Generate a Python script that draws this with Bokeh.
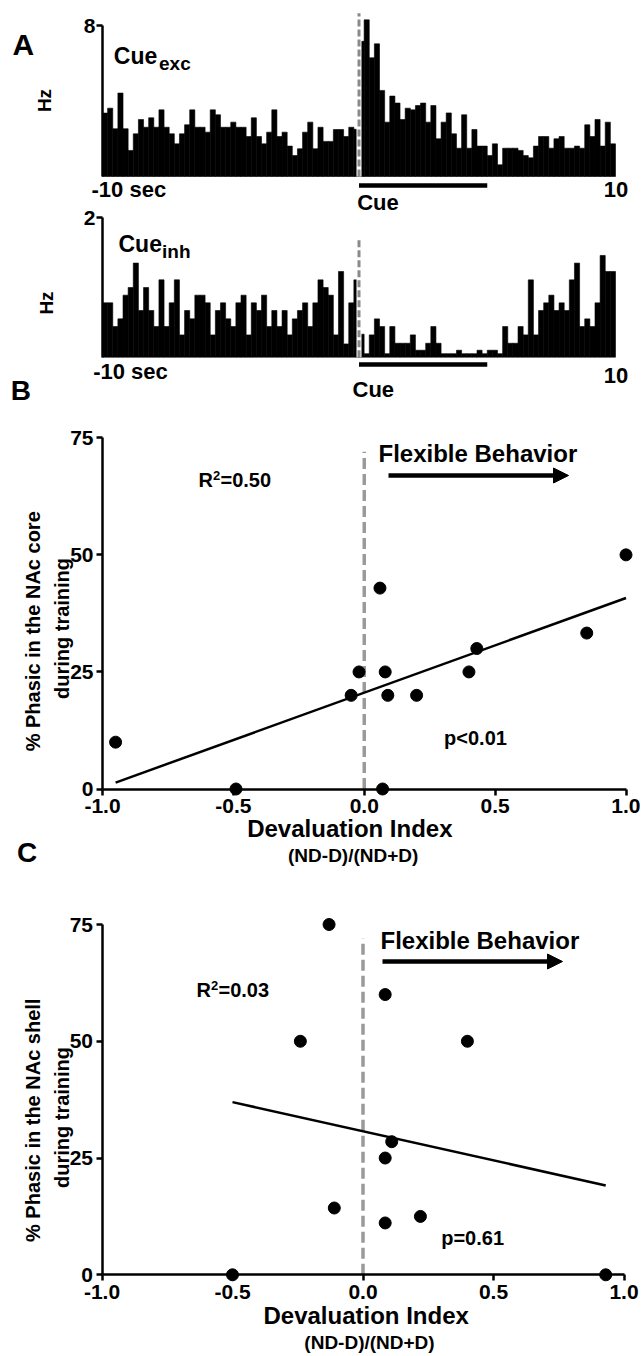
import numpy as np
from bokeh.plotting import figure
from bokeh.layouts import column
from bokeh.models import (Range1d, FixedTicker, PrintfTickFormatter, Arrow, NormalHead,
                          LinearAxis)
from bokeh.core.properties import value
from bokeh.embed import file_html
from bokeh.resources import INLINE

# ---------------- data ----------------
bin_start = -10.0
bin_width = 0.2
exc_rate = [
    3.36, 3.62, 2.53, 4.42, 2.53, 1.38, 2.26, 3.02, 2.61, 3.11,
    2.61, 3.53, 2.61, 2.26, 1.73, 2.26, 2.74, 3.53, 2.61, 2.61,
    2.35, 3.53, 3.27, 2.61, 2.61, 2.88, 2.61, 2.61, 2.12, 3.11,
    2.12, 1.73, 2.35, 3.53, 2.12, 2.35, 1.61, 1.11, 1.47, 2.35,
    2.88, 1.47, 2.61, 1.86, 1.86, 2.49, 2.49, 2.12, 2.61, 2.50,
    7.16, 8.30, 6.29, 7.03, 4.56, 2.88, 4.26, 3.89, 3.02, 3.62,
    3.53, 3.76, 3.89, 2.88, 3.76, 2.00, 2.88, 3.37, 2.26, 1.50,
    3.27, 1.50, 2.49, 1.61, 1.61, 1.11, 1.73, 0.62, 1.50, 1.50,
    1.50, 1.38, 1.11, 0.99, 1.61, 2.12, 2.12, 1.50, 2.00, 2.12,
    1.50, 1.50, 1.61, 1.50, 2.74, 2.12, 3.02, 1.61, 2.88, 1.73]
inh_rate = [
    0.78, 0.78, 0.44, 0.55, 0.89, 1.00, 1.35, 0.67, 1.00, 0.67,
    0.44, 1.11, 0.44, 0.78, 1.11, 0.32, 0.67, 0.55, 0.89, 0.89,
    0.78, 0.32, 0.67, 0.78, 0.55, 0.44, 0.78, 0.89, 0.32, 0.78,
    0.67, 0.89, 0.44, 0.67, 0.44, 0.67, 0.32, 0.55, 0.67, 0.78,
    0.44, 0.78, 1.11, 1.00, 0.89, 0.32, 1.23, 0.19, 0.78, 1.11,
    0.33, 0.05, 0.32, 0.55, 0.44, 0.05, 0.44, 0.20, 0.20, 0.20,
    0.32, 0.10, 0.10, 0.20, 0.44, 0.20, 0.05, 0.05, 0.05, 0.10,
    0.05, 0.05, 0.05, 0.10, 0.05, 0.10, 0.10, 0.05, 0.44, 0.20,
    0.20, 0.44, 0.32, 1.11, 0.32, 0.67, 0.78, 0.89, 0.67, 0.78,
    0.67, 1.11, 1.35, 0.44, 0.55, 0.44, 0.78, 1.46, 1.23, 1.23]
cue_onset = 0.0
cue_window = [0.0, 5.0]
exc_ticks = [8]
inh_ticks = [2]

core_index = [-0.95, -0.49, -0.05, -0.02, 0.06, 0.07, 0.08, 0.09, 0.20, 0.40, 0.43, 0.85, 1.00]
core_phasic = [10.0, 0.0, 20.0, 25.0, 42.9, 0.0, 25.0, 20.0, 20.0, 25.0, 30.0, 33.3, 50.0]
shell_index = [-0.50, -0.24, -0.13, -0.11, 0.085, 0.085, 0.085, 0.11, 0.22, 0.40, 0.93]
shell_phasic = [0.0, 50.0, 75.0, 14.3, 60.0, 25.0, 11.1, 28.5, 12.5, 50.0, 0.0]
di_ticks = [-1.0, -0.5, 0.0, 0.5, 1.0]
pct_ticks = [0, 25, 50, 75]

# ---------------- helpers ----------------
FONT = "Liberation Sans"
PAGE_LEFT, PAGE_RIGHT = 0, 640
W = PAGE_RIGHT - PAGE_LEFT


def mapping(v0, p0, v1, p1):
    k = (v1 - v0) / (p1 - p0)
    return lambda p: v0 + (p - p0) * k


def make_fig(fx, fy, top, bottom):
    p = figure(width=W, height=bottom - top,
               x_range=Range1d(fx(PAGE_LEFT), fx(PAGE_RIGHT)),
               y_range=Range1d(fy(bottom), fy(top)),
               output_backend="svg", toolbar_location=None,
               min_border_left=0, min_border_right=0,
               min_border_top=0, min_border_bottom=0)
    p.outline_line_color = None
    p.grid.visible = False
    p.background_fill_color = "white"
    p.border_fill_color = "white"
    return p


def style_axis(ax, size, standoff):
    ax.axis_line_width = 2.5
    ax.axis_line_color = "black"
    ax.major_tick_line_width = 2.5
    ax.major_tick_line_color = "black"
    ax.major_tick_in = 0
    ax.major_tick_out = 6
    ax.minor_tick_line_color = None
    ax.major_label_text_font = FONT
    ax.major_label_text_font_style = "bold"
    ax.major_label_text_font_size = f"{size}px"
    ax.major_label_text_color = "black"
    ax.major_label_standoff = standoff


def txt(p, fx, fy, px, py, s, size, align="left"):
    """Horizontal text; py is the page y of the text's baseline."""
    p.text(x=[fx(px)], y=[fy(py - 0.35 * size)], text=[s], text_font=value(FONT),
           text_font_style="bold", text_font_size=f"{size}px", text_align=align,
           text_baseline="middle", text_color="black")


def vtxt(p, fx, fy, px, py, s, size):
    """Vertical (bottom-to-top) text centred on page point (px, py)."""
    p.text(x=[fx(px)], y=[fy(py)], text=[s], text_font=value(FONT),
           text_font_style="bold", text_font_size=f"{size}px", text_align="center",
           text_baseline="middle", angle=np.pi / 2, text_color="black")


# ---------------- panel A (two histograms, one canvas, two y scales) ----------------
A_TOP, A_BOTTOM = 0, 407
fxA = mapping(-10, 102, 10, 615)
fyA1 = mapping(0, 176, 8, 25)
fyA2 = mapping(0, 356.7, 2, 217.3)
pA = make_fig(fxA, fyA1, A_TOP, A_BOTTOM)
pA.extra_y_ranges = {"inh": Range1d(fyA2(A_BOTTOM), fyA2(A_TOP))}
pA.xaxis.visible = False


def hist(p, rates, fy, rname, dash_top, bar_y):
    left = [bin_start + i * bin_width for i in range(len(rates))]
    right = [l + bin_width for l in left]
    p.quad(left=left, right=right, bottom=0, top=rates, y_range_name=rname,
           fill_color="black", line_color="black", line_width=0.6)
    p.segment(x0=[cue_onset], y0=[0], x1=[cue_onset], y1=[fy(dash_top)], y_range_name=rname,
              line_color="white", line_width=5)
    p.segment(x0=[cue_onset], y0=[0], x1=[cue_onset], y1=[fy(dash_top)], y_range_name=rname,
              line_color="#8a8a8a", line_width=3, line_dash="7 3")
    p.segment(x0=[cue_window[0]], y0=[fy(bar_y)], x1=[cue_window[1]], y1=[fy(bar_y)],
              y_range_name=rname, line_color="black", line_width=4.5)


hist(pA, exc_rate, fyA1, "default", 12.7, 185)
hist(pA, inh_rate, fyA2, "inh", 239, 364)

pA.yaxis.fixed_location = bin_start
pA.yaxis.ticker = FixedTicker(ticks=exc_ticks)
pA.yaxis.bounds = (0, exc_ticks[-1])
style_axis(pA.yaxis, 21, 1)
ax_inh = LinearAxis(y_range_name="inh", fixed_location=bin_start,
                    ticker=FixedTicker(ticks=inh_ticks), bounds=(0, inh_ticks[-1]))
style_axis(ax_inh, 21, 1)
pA.add_layout(ax_inh, "left")

fx, fy = fxA, fyA1
txt(pA, fx, fy, 12, 54, "A", 30)
txt(pA, fx, fy, 113.3, 63.3, "Cue", 23)
txt(pA, fx, fy, 158.5, 70, "exc", 19)
vtxt(pA, fx, fy, 44, 100, "Hz", 19)
txt(pA, fx, fy, 91, 197, "-10 sec", 22)
txt(pA, fx, fy, 615.5, 197, "10", 22, align="center")
txt(pA, fx, fy, 356.7, 210, "Cue", 22)
txt(pA, fx, fy, 118, 251.7, "Cue", 23)
txt(pA, fx, fy, 161.5, 257.7, "inh", 19)
vtxt(pA, fx, fy, 46, 302.5, "Hz", 19)
txt(pA, fx, fy, 92.7, 379, "-10 sec", 22)
txt(pA, fx, fy, 615.5, 383, "10", 22, align="center")
txt(pA, fx, fy, 352, 396.7, "Cue", 22)
txt(pA, fx, fy, 10.2, 400, "B", 28)


# ---------------- panels B and C ----------------
def scatter_panel(xs, ys, top, bottom, fx, fy, cfg):
    p = make_fig(fx, fy, top, bottom)
    p.segment(x0=[cue_onset], y0=[0], x1=[cue_onset], y1=[72],
              line_color="#9a9a9a", line_width=3.5, line_dash="11 5")
    m, b = np.polyfit(xs, ys, 1)
    lx = [min(xs), max(xs)]
    p.line(lx, [m * v + b for v in lx], line_color="black", line_width=2.5)
    p.scatter(xs, ys, size=12, fill_color="black", line_color="black")
    p.add_layout(Arrow(end=NormalHead(size=15, fill_color="black", line_color="black"),
                       x_start=fx(cfg["arrow"][0]), y_start=fy(cfg["arrow"][2]),
                       x_end=fx(cfg["arrow"][1]), y_end=fy(cfg["arrow"][2]),
                       line_width=4.5, line_color="black"))
    p.xaxis.fixed_location = 0
    p.yaxis.fixed_location = di_ticks[0]
    p.xaxis.ticker = FixedTicker(ticks=di_ticks)
    p.xaxis.formatter = PrintfTickFormatter(format="%.1f")
    p.xaxis.bounds = (di_ticks[0], di_ticks[-1])
    p.yaxis.ticker = FixedTicker(ticks=pct_ticks)
    p.yaxis.bounds = (pct_ticks[0], pct_ticks[-1])
    style_axis(p.xaxis, 21, 4)
    style_axis(p.yaxis, 21, 3)
    fb = cfg["flex"]
    txt(p, fx, fy, fb[0], fb[1], "Flexible Behavior", 24)
    r = cfg["r2"]
    txt(p, fx, fy, r[0], r[1], "R", 20)
    txt(p, fx, fy, r[0] + 14.5, r[1] - 7, "2", 13)
    txt(p, fx, fy, r[0] + 22, r[1], cfg["r2text"], 20)
    pv = cfg["p"]
    txt(p, fx, fy, pv[0], pv[1], cfg["ptext"], 20)
    yl = cfg["ylab"]
    vtxt(p, fx, fy, 32, yl, cfg["ylab1"], 20)
    vtxt(p, fx, fy, 61, yl, "during training", 20)
    xl = cfg["xlab"]
    txt(p, fx, fy, xl[0], xl[1], "Devaluation  Index", 24, align="center")
    txt(p, fx, fy, xl[0], xl[2], "(ND-D)/(ND+D)", 19, align="center")
    return p


fxB = mapping(-1, 102, 1, 625.5)
fyB = mapping(0, 788.5, 75, 437.3)
pB = scatter_panel(core_index, core_phasic, A_BOTTOM, 870, fxB, fyB, dict(
    arrow=(388, 568, 475), flex=(378, 461.7), r2=(198, 486.7), r2text="=0.50",
    p=(443.6, 744), ptext="p<0.01", ylab=628, ylab1="%  Phasic in the NAc core",
    xlab=(352.7, 836.7, 862)))
txt(pB, fxB, fyB, 16.4, 861.7, "C", 28)

fxC = mapping(-1, 101.5, 1, 623.5)
fyC = mapping(0, 1274.3, 75, 924)
pC = scatter_panel(shell_index, shell_phasic, 870, 1354, fxC, fyC, dict(
    arrow=(382, 562, 961), flex=(380, 948), r2=(196, 996.7), r2text="=0.03",
    p=(440.7, 1244), ptext="p=0.61", ylab=1117, ylab1="%  Phasic in the NAc shell",
    xlab=(369, 1323, 1349)))

layout = column(pA, pB, pC)
open("out.html", "w").write(file_html(layout, INLINE))
